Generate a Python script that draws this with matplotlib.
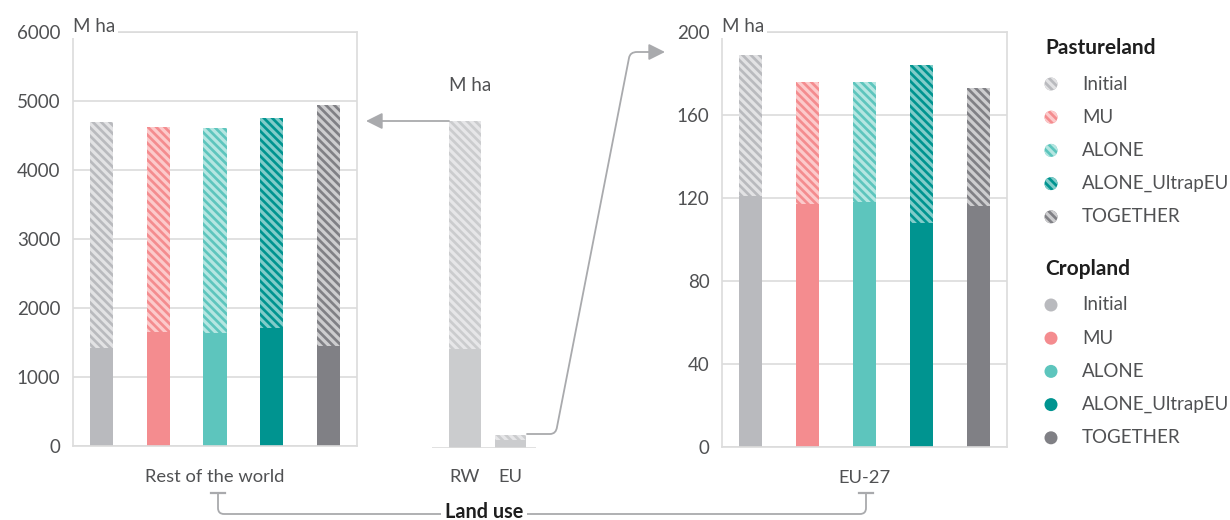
"""Land use: Rest of the world vs EU-27, cropland + pastureland per scenario."""
import matplotlib
matplotlib.use("Agg")
import matplotlib.pyplot as plt
from matplotlib.patches import Circle, FancyArrowPatch
from matplotlib.path import Path

plt.rcParams["font.family"] = ["Lato", "DejaVu Sans"]
plt.rcParams["hatch.linewidth"] = 2.3

# ---- data (M ha) ----
scenarios = ["Initial", "MU", "ALONE", "ALONE_UltrapEU", "TOGETHER"]
rw_crop = [1420, 1650, 1640, 1710, 1450]
rw_pasture = [3280, 2970, 2970, 3040, 3490]
eu_crop = [121, 117, 118, 108, 116]
eu_pasture = [68, 59, 58, 76, 57]
mid_regions = ["RW", "EU"]
mid_crop = [1420, 121]
mid_pasture = [3280, 68]
rw_ticks = [0, 1000, 2000, 3000, 4000, 5000, 6000]
eu_ticks = [0, 40, 80, 120, 160, 200]

base = ["#b9babe", "#f48c8f", "#5dc5bd", "#009490", "#808085"]
tint = ["#e2e2e4", "#fccacb", "#b5e6e1", "#80ccc9", "#cdcdcf"]
mid_base, mid_tint = "#cbccce", "#e6e6e8"
TXT = "#505153"
GRID = "#dcdcdc"
LINE = "#a9aaad"
FS = 13.5

W, H = 1230, 520
fig = plt.figure(figsize=(W / 100, H / 100), dpi=100)


def px_axes(x0, x1, ytop, ybot):
    return fig.add_axes([x0 / W, 1 - ybot / H, (x1 - x0) / W, (ybot - ytop) / H])


def panel(ax, crop, pasture, ticks, label):
    x = range(len(crop))
    ax.bar(x, crop, width=0.41, color=base, linewidth=0)
    ax.bar(x, pasture, bottom=crop, width=0.41, color=base, edgecolor=tint,
           linewidth=0, hatch="\\\\\\\\")
    ax.set_xlim(-0.5, 4.5)
    ax.set_ylim(0, ticks[-1])
    ax.set_yticks(ticks)
    ax.set_xticks([])
    ax.yaxis.grid(True, color=GRID, lw=1.2)
    ax.set_axisbelow(True)
    for s in ax.spines.values():
        s.set_color(GRID)
        s.set_linewidth(1.2)
    ax.tick_params(axis="y", length=0, pad=9, labelsize=FS, labelcolor=TXT)
    ax.annotate("M ha", xy=(0, 1), xycoords="axes fraction", xytext=(0, 0),
                textcoords="offset pixels", fontsize=FS, color=TXT,
                va="baseline", ha="left",
                bbox=dict(facecolor="white", edgecolor="none", pad=2))
    ax.annotate(label, xy=(0.5, 0), xycoords="axes fraction", xytext=(0, -31),
                textcoords="offset pixels", ha="center", va="center",
                fontsize=FS - 0.3, color=TXT)


ax_rw = px_axes(73, 357, 32, 446)
panel(ax_rw, rw_crop, rw_pasture, rw_ticks, "Rest of the world")

ax_eu = px_axes(722, 1007, 32, 447)
panel(ax_eu, eu_crop, eu_pasture, eu_ticks, "EU-27")

# middle overview panel, same scale as the RW panel
ax_mid = px_axes(432, 536, 31, 448)
ax_mid.bar([0, 1], mid_crop, width=0.7, color=mid_base, linewidth=0)
ax_mid.bar([0, 1], mid_pasture, bottom=mid_crop, width=0.7, color=mid_base,
           edgecolor=mid_tint, linewidth=0, hatch="\\\\\\\\")
ax_mid.set_xlim(-0.725, 1.56)
ax_mid.set_ylim(0, 6000)
ax_mid.axis("off")
ax_mid.axhline(0, color=GRID, lw=1.2)
for i, r in enumerate(mid_regions):
    ax_mid.annotate(r, xy=(i, 0), xycoords="data", xytext=(0, -29),
                    textcoords="offset pixels", ha="center", va="center",
                    fontsize=FS - 0.3, color=TXT)
ax_mid.text(0.11, 5220, "M ha", fontsize=FS, color=TXT, ha="center", va="center")

# overlay in pixel coordinates for connectors and legend
ov = fig.add_axes([0, 0, 1, 1], facecolor="none")
ov.set_xlim(0, W)
ov.set_ylim(H, 0)
ov.axis("off")

head = "-|>,head_length=1.1,head_width=0.55"
ov.add_patch(FancyArrowPatch((449, 121), (366, 121), arrowstyle=head,
                             mutation_scale=9, color=LINE, lw=1.3, shrinkA=0, shrinkB=0))
M, L, C = Path.MOVETO, Path.LINETO, Path.CURVE3
arrow_path = Path([(527, 434), (550, 434), (556, 434), (557, 427), (629, 58), (630, 52),
                   (637, 52), (665, 52)], [M, L, C, C, L, C, C, L])
ov.add_patch(FancyArrowPatch(path=arrow_path, arrowstyle=head,
                             mutation_scale=9, color=LINE, lw=1.3))

bracket = Path([(218, 493), (218, 508), (218, 514), (224, 514), (860, 514), (866, 514),
                (866, 508), (866, 493)], [M, L, C, C, L, C, C, L])
ov.add_patch(FancyArrowPatch(path=bracket, arrowstyle="-", color=LINE, lw=1.3))
ov.plot([211, 225], [493, 493], color=LINE, lw=1.6)
ov.plot([859, 873], [493, 493], color=LINE, lw=1.6)
ov.text(484, 512, "Land use", fontsize=14.3, fontweight="bold", color="#1e1e1e",
        ha="center", va="center", bbox=dict(facecolor="white", edgecolor="none", pad=3))


# legend
def legend_block(y0, title, hatched):
    ov.text(1045, y0, title, fontsize=15, fontweight="bold", color="#1e1e1e",
            ha="left", va="center")
    for i, name in enumerate(scenarios):
        y = y0 + 36 + i * 33.2
        if hatched:
            ov.add_patch(Circle((1051, y), 6.5, facecolor=base[i], edgecolor=tint[i],
                                linewidth=0, hatch="\\\\\\\\"))
        else:
            ov.add_patch(Circle((1051, y), 6.5, facecolor=base[i], linewidth=0))
        ov.text(1082, y, name, fontsize=FS, color=TXT, ha="left", va="center")


legend_block(48, "Pastureland", True)
legend_block(269, "Cropland", False)

fig.savefig("out.png", dpi=100)
